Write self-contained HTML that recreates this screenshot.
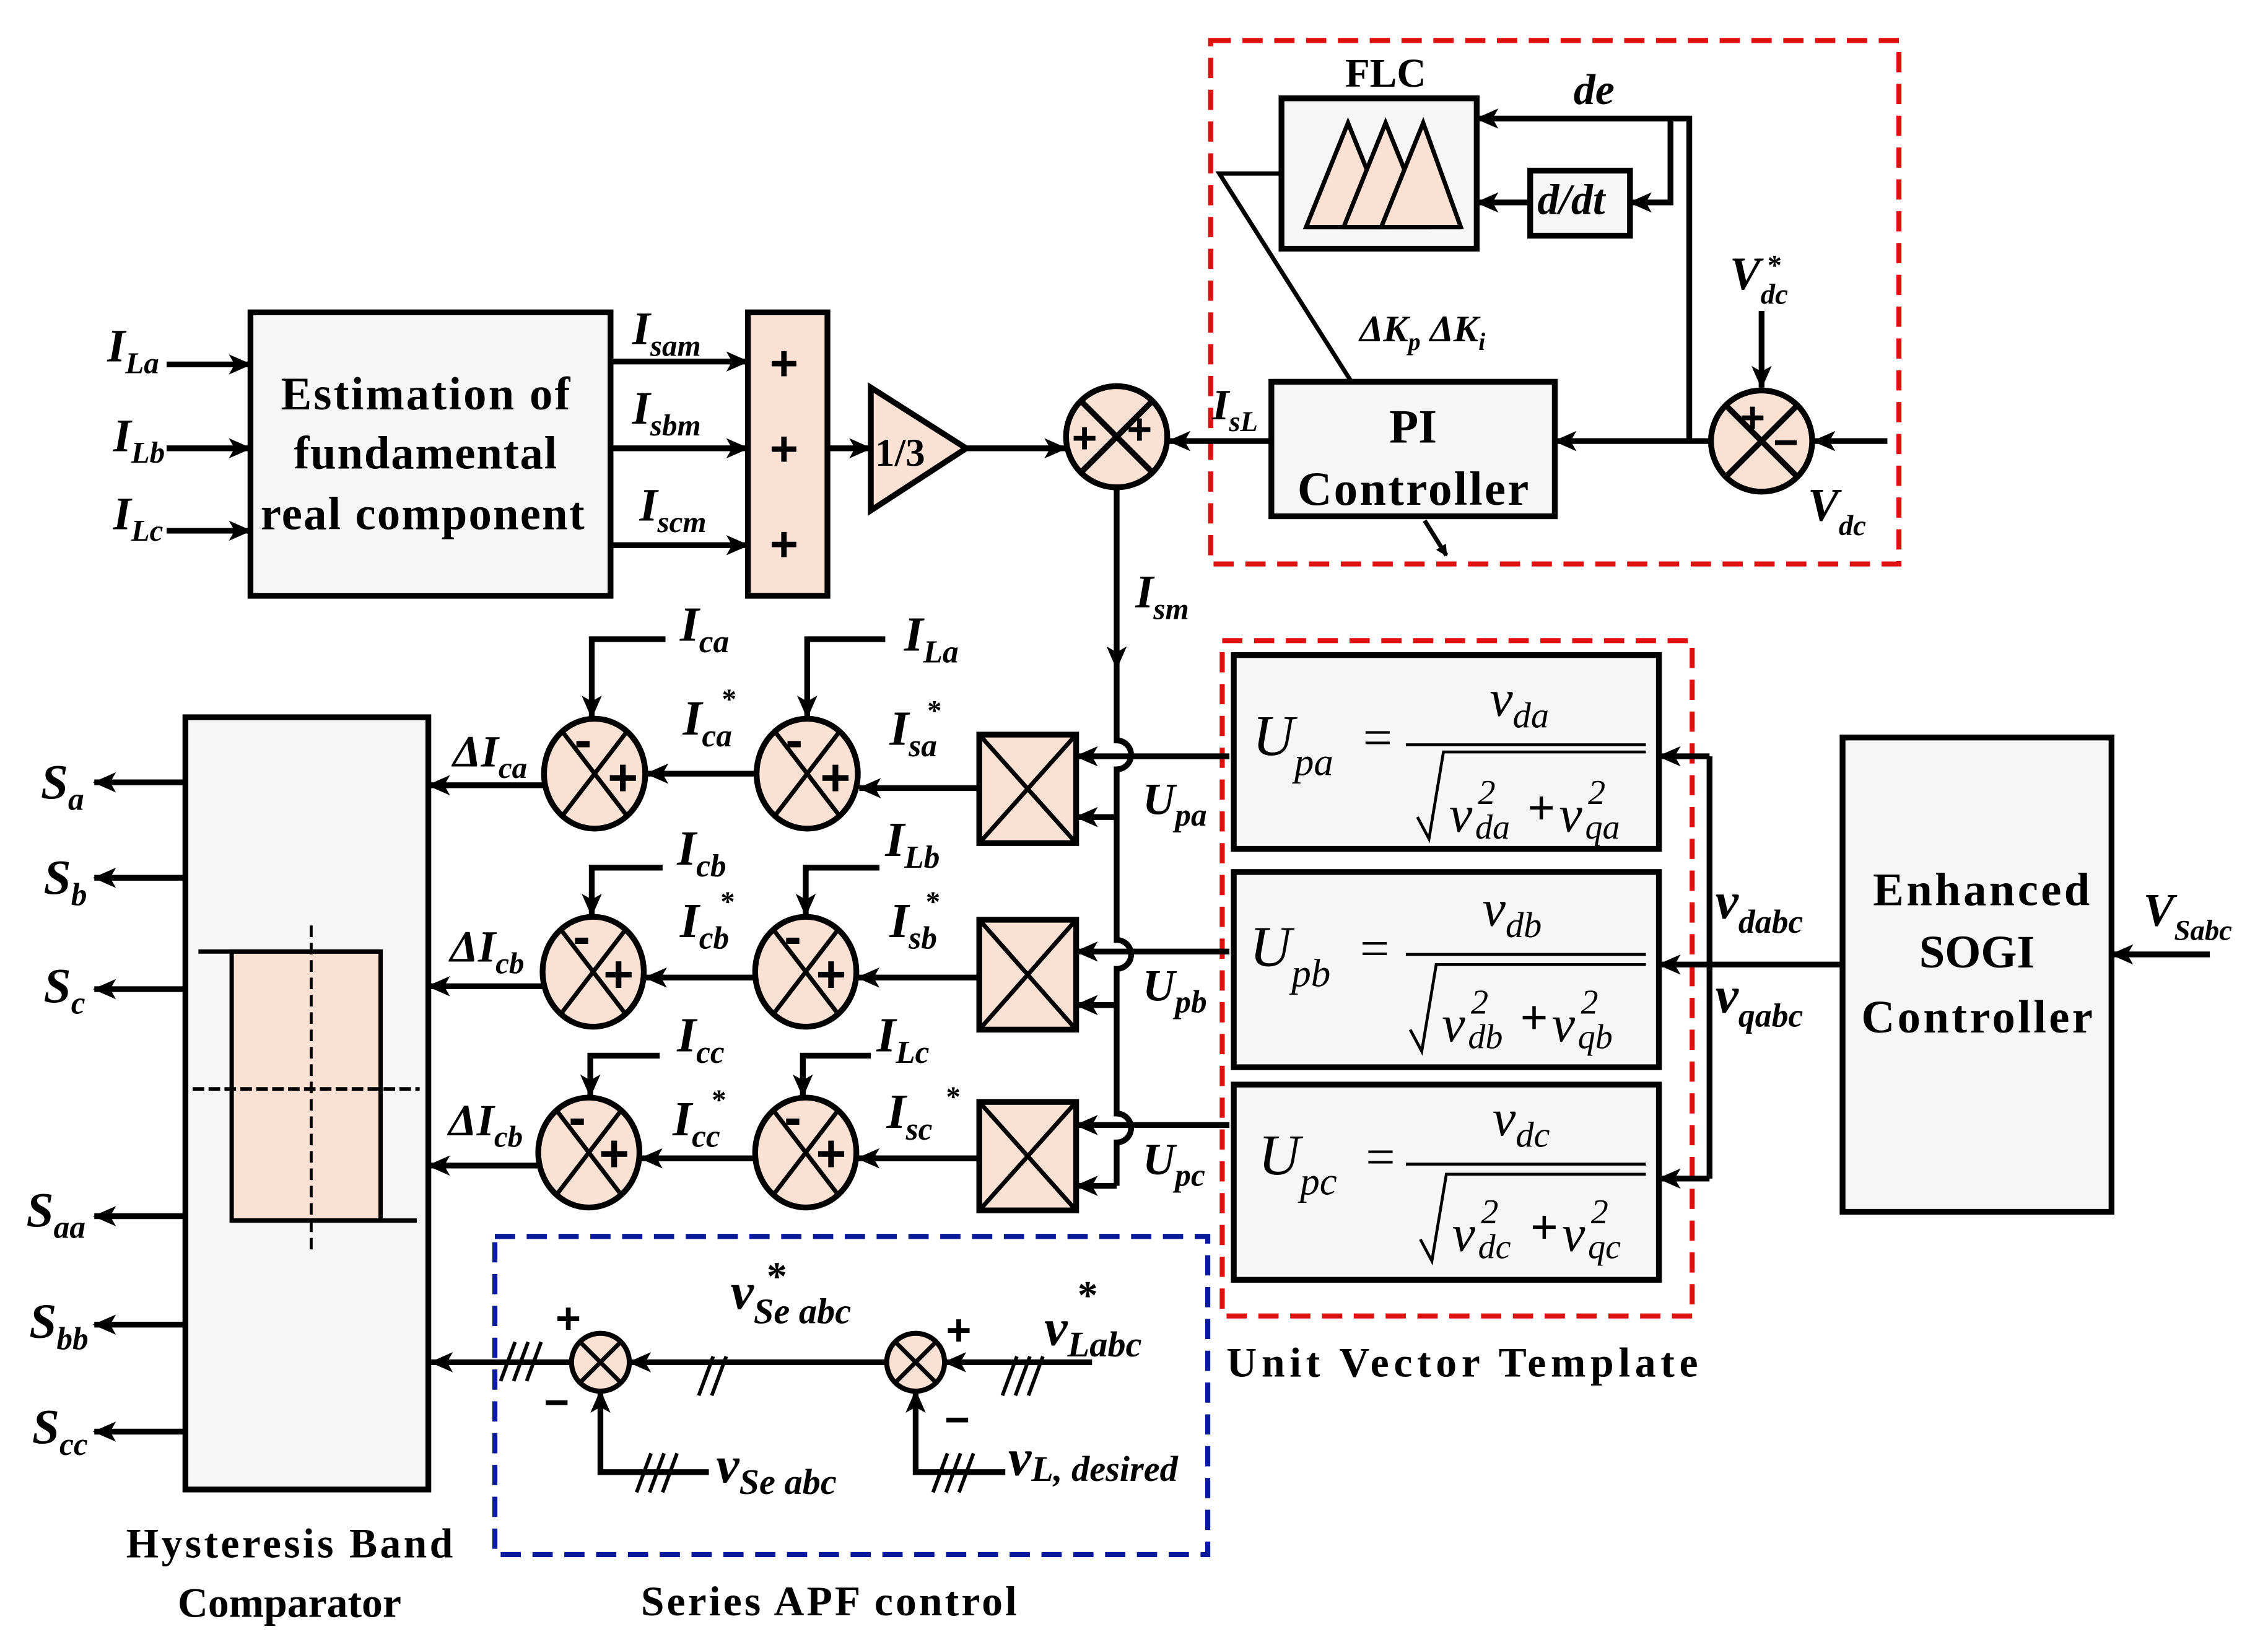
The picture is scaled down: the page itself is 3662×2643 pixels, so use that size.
<!DOCTYPE html>
<html><head><meta charset="utf-8"><style>
html,body{margin:0;padding:0;background:#fff}
svg{display:block}
text{font-family:"Liberation Serif",serif;font-weight:bold;fill:#000}
.i{font-style:italic}
.n{font-weight:normal;font-style:italic}
</style></head><body>
<svg width="3662" height="2643" viewBox="0 0 1568 1132" xmlns="http://www.w3.org/2000/svg">
<defs>
<marker id="a" markerWidth="8" markerHeight="8" refX="7" refY="4" orient="auto" markerUnits="userSpaceOnUse"><path d="M0,0 L8,4 L0,8 Z" fill="#000"/></marker>
<marker id="b" markerWidth="16" markerHeight="14" refX="15" refY="7" orient="auto" markerUnits="userSpaceOnUse"><path d="M0,0 L16,7 L0,14 L4,7 Z" fill="#000"/></marker>
</defs>
<g stroke="#000" stroke-width="4" fill="none">
<rect x="837" y="28" width="476" height="362" stroke="#e01010" stroke-width="3.5" stroke-dasharray="14,8"/>
<rect x="845" y="443" width="325" height="467" stroke="#e01010" stroke-width="3.5" stroke-dasharray="14,8"/>
<rect x="342" y="855" width="493" height="220" stroke="#0a1a9a" stroke-width="3.5" stroke-dasharray="14,8"/>
<rect x="886" y="68" width="135" height="104" fill="#f6f6f6"/>
<g stroke-width="3" fill="#fbe0d4">
<path d="M903,157 L932,85 L961,157 Z"/><path d="M929,157 L958,85 L987,157 Z"/><path d="M955,157 L984,85 L1010,157 Z"/>
</g>
<line x1="903" y1="157" x2="1010" y2="157" stroke-width="3"/>
<rect x="1058" y="118" width="69" height="45" fill="#f6f6f6"/>
<polyline points="1168,305 1168,82 1021,82" marker-end="url(#b)"/>
<polyline points="1155,82 1155,140 1127,140" marker-end="url(#b)"/>
<line x1="1058" y1="140" x2="1021" y2="140" marker-end="url(#b)"/>
<polyline points="886,120 843,120 935,265" stroke-width="3"/>
<rect x="879" y="264" width="196" height="93" fill="#f6f6f6"/>
<line x1="985" y1="360" x2="1000" y2="384" stroke-width="3" marker-end="url(#a)"/>
<circle cx="1218" cy="305" r="35" fill="#fbe0d4"/>
<line x1="1193" y1="280" x2="1243" y2="330"/><line x1="1243" y1="280" x2="1193" y2="330"/>
<line x1="1218" y1="215" x2="1218" y2="268" marker-end="url(#b)"/>
<line x1="1305" y1="305" x2="1254" y2="305" marker-end="url(#b)"/>
<line x1="1183" y1="305" x2="1075" y2="305" marker-end="url(#b)"/>
<line x1="879" y1="305" x2="808" y2="305" marker-end="url(#b)"/>
<circle cx="772" cy="302" r="35" fill="#fbe0d4"/>
<line x1="747" y1="277" x2="797" y2="327"/><line x1="797" y1="277" x2="747" y2="327"/>
<rect x="173" y="216" width="249" height="196" fill="#f6f6f6"/>
<line x1="115" y1="252" x2="173" y2="252" marker-end="url(#b)"/>
<line x1="115" y1="310" x2="173" y2="310" marker-end="url(#b)"/>
<line x1="115" y1="367" x2="173" y2="367" marker-end="url(#b)"/>
<line x1="422" y1="250" x2="517" y2="250" marker-end="url(#b)"/>
<line x1="422" y1="310" x2="517" y2="310" marker-end="url(#b)"/>
<line x1="422" y1="377" x2="517" y2="377" marker-end="url(#b)"/>
<rect x="517" y="216" width="55" height="196" fill="#fbe0d4"/>
<line x1="572" y1="310" x2="602" y2="310" marker-end="url(#b)"/>
<path d="M602,268 L668,310 L602,353 Z" fill="#fbe0d4"/>
<line x1="668" y1="310" x2="737" y2="310" marker-end="url(#b)"/>
<line x1="772" y1="337" x2="772" y2="462" marker-end="url(#b)"/>
<path d="M772,462 L772,512 A10,10 0 0 1 772,532 L772,650 A10,10 0 0 1 772,670 L772,770 A10,10 0 0 1 772,790 L772,820"/>
<rect x="677" y="508" width="67" height="75" fill="#fbe0d4"/>
<rect x="677" y="636" width="67" height="76" fill="#fbe0d4"/>
<rect x="677" y="762" width="67" height="75" fill="#fbe0d4"/>
<path d="M677,508 L744,583 M744,508 L677,583 M677,636 L744,712 M744,636 L677,712 M677,762 L744,837 M744,762 L677,837" stroke-width="3"/>
<line x1="850" y1="523" x2="744" y2="523" marker-end="url(#b)"/>
<line x1="850" y1="658" x2="744" y2="658" marker-end="url(#b)"/>
<line x1="850" y1="778" x2="744" y2="778" marker-end="url(#b)"/>
<polyline points="772,565 744,565" marker-end="url(#b)"/>
<polyline points="772,695 744,695" marker-end="url(#b)"/>
<polyline points="772,820 744,820" marker-end="url(#b)"/>
<g fill="#fbe0d4">
<ellipse cx="558" cy="535" rx="35" ry="38"/><ellipse cx="411" cy="535" rx="35" ry="38"/>
<ellipse cx="557" cy="672" rx="35" ry="38"/><ellipse cx="410" cy="672" rx="35" ry="38"/>
<ellipse cx="557" cy="797" rx="35" ry="38"/><ellipse cx="407" cy="797" rx="35" ry="38"/>
</g>
<path d="M535,505 L581,565 M581,505 L535,565 M388,505 L434,565 M434,505 L388,565 M534,642 L580,702 M580,642 L534,702 M387,642 L433,702 M433,642 L387,702 M534,767 L580,827 M580,767 L534,827 M384,767 L430,827 M430,767 L384,827" stroke-width="3"/>
<line x1="677" y1="545" x2="594" y2="545" marker-end="url(#b)"/>
<line x1="523" y1="535" x2="447" y2="535" marker-end="url(#b)"/>
<line x1="376" y1="543" x2="296" y2="543" marker-end="url(#b)"/>
<line x1="677" y1="676" x2="593" y2="676" marker-end="url(#b)"/>
<line x1="522" y1="676" x2="446" y2="676" marker-end="url(#b)"/>
<line x1="375" y1="682" x2="296" y2="682" marker-end="url(#b)"/>
<line x1="677" y1="801" x2="593" y2="801" marker-end="url(#b)"/>
<line x1="522" y1="801" x2="443" y2="801" marker-end="url(#b)"/>
<line x1="372" y1="806" x2="296" y2="806" marker-end="url(#b)"/>
<polyline points="460,442 409,442 409,496" marker-end="url(#b)"/>
<polyline points="612,442 558,442 558,496" marker-end="url(#b)"/>
<polyline points="458,600 409,600 409,633" marker-end="url(#b)"/>
<polyline points="608,600 557,600 557,633" marker-end="url(#b)"/>
<polyline points="456,730 408,730 408,758" marker-end="url(#b)"/>
<polyline points="602,730 555,730 555,758" marker-end="url(#b)"/>
<rect x="128" y="496" width="168" height="534" fill="#f6f6f6"/>
<rect x="160" y="658" width="103" height="186" fill="#fbe0d4" stroke-width="3"/>
<line x1="137" y1="658" x2="263" y2="658" stroke-width="3"/><line x1="160" y1="844" x2="288" y2="844" stroke-width="3"/>
<line x1="215" y1="640" x2="215" y2="868" stroke-width="2" stroke-dasharray="8,4"/>
<line x1="133" y1="753" x2="290" y2="753" stroke-width="2.5" stroke-dasharray="8,3"/>
<line x1="128" y1="541" x2="65" y2="541" marker-end="url(#b)"/>
<line x1="128" y1="607" x2="65" y2="607" marker-end="url(#b)"/>
<line x1="128" y1="684" x2="65" y2="684" marker-end="url(#b)"/>
<line x1="128" y1="841" x2="65" y2="841" marker-end="url(#b)"/>
<line x1="128" y1="916" x2="65" y2="916" marker-end="url(#b)"/>
<line x1="128" y1="990" x2="65" y2="990" marker-end="url(#b)"/>
<rect x="853" y="453" width="294" height="134" fill="#f6f6f6"/>
<rect x="853" y="603" width="294" height="135" fill="#f6f6f6"/>
<rect x="853" y="750" width="294" height="135" fill="#f6f6f6"/>
<g stroke-width="2">
<line x1="972" y1="515" x2="1138" y2="515"/><line x1="972" y1="660" x2="1138" y2="660"/><line x1="972" y1="805" x2="1138" y2="805"/>
<polyline points="980,565 988,580 998,520 1138,520"/>
<polyline points="975,712 983,727 993,667 1138,667"/>
<polyline points="982,857 990,872 1000,812 1138,812"/>
</g>
<polyline points="1274,667 1182,667" />
<polyline points="1182,523 1182,815"/>
<line x1="1182" y1="523" x2="1147" y2="523" marker-end="url(#b)"/>
<line x1="1182" y1="667" x2="1147" y2="667" marker-end="url(#b)"/>
<line x1="1182" y1="815" x2="1147" y2="815" marker-end="url(#b)"/>
<rect x="1274" y="510" width="186" height="328" fill="#f6f6f6"/>
<line x1="1528" y1="660" x2="1460" y2="660" marker-end="url(#b)"/>
<circle cx="415" cy="942" r="20" fill="#fbe0d4" stroke-width="3.5"/>
<circle cx="633" cy="942" r="20" fill="#fbe0d4" stroke-width="3.5"/>
<path d="M401,928 L429,956 M429,928 L401,956 M619,928 L647,956 M647,928 L619,956" stroke-width="3"/>
<line x1="755" y1="942" x2="653" y2="942" marker-end="url(#b)"/>
<line x1="613" y1="942" x2="435" y2="942" marker-end="url(#b)"/>
<line x1="395" y1="942" x2="298" y2="942" marker-end="url(#b)"/>
<polyline points="490,1018 415,1018 415,962" marker-end="url(#b)"/>
<polyline points="695,1018 633,1018 633,962" marker-end="url(#b)"/>
<g stroke-width="2.5">
<path d="M346,955 L356,928 M355,955 L365,928 M364,955 L374,928"/>
<path d="M483,965 L493,938 M492,965 L502,938"/>
<path d="M693,965 L703,938 M702,965 L712,938 M711,965 L721,938"/>
<path d="M440,1032 L450,1005 M449,1032 L459,1005 M458,1032 L468,1005"/>
<path d="M645,1032 L655,1005 M654,1032 L664,1005 M663,1032 L673,1005"/>
</g>
</g>
<!-- signs -->
<g font-size="34" font-family="Liberation Sans">
<text x="532" y="263" style="font-family:'Liberation Sans'">+</text><text x="532" y="322" style="font-family:'Liberation Sans'">+</text><text x="532" y="388" style="font-family:'Liberation Sans'">+</text>
<text x="741" y="313" style="font-family:'Liberation Sans'" font-size="30">+</text><text x="779" y="307" style="font-family:'Liberation Sans'" font-size="30">+</text>
<text x="1203" y="299" style="font-family:'Liberation Sans'" font-size="30">+</text><text x="1226" y="316" style="font-family:'Liberation Sans'" font-size="30">−</text>
<text x="384" y="922" style="font-family:'Liberation Sans'" font-size="30">+</text><text x="376" y="980" style="font-family:'Liberation Sans'" font-size="30">−</text>
<text x="654" y="930" style="font-family:'Liberation Sans'" font-size="30">+</text><text x="653" y="992" style="font-family:'Liberation Sans'" font-size="30">−</text>
</g>
<g font-size="36" style="font-family:'Liberation Sans'">
<text x="543" y="524" style="font-family:'Liberation Sans'">-</text><text x="567" y="550" style="font-family:'Liberation Sans'">+</text>
<text x="397" y="524" style="font-family:'Liberation Sans'">-</text><text x="420" y="550" style="font-family:'Liberation Sans'">+</text>
<text x="542" y="660" style="font-family:'Liberation Sans'">-</text><text x="564" y="686" style="font-family:'Liberation Sans'">+</text>
<text x="396" y="660" style="font-family:'Liberation Sans'">-</text><text x="417" y="686" style="font-family:'Liberation Sans'">+</text>
<text x="542" y="785" style="font-family:'Liberation Sans'">-</text><text x="564" y="810" style="font-family:'Liberation Sans'">+</text>
<text x="393" y="785" style="font-family:'Liberation Sans'">-</text><text x="414" y="810" style="font-family:'Liberation Sans'">+</text>
</g>
<text x="930" y="60" font-size="28">FLC</text>
<text x="1088" y="72" font-size="30" class="i">de</text>
<text x="1063" y="148" font-size="30" class="i">d/dt</text>
<text x="940" y="236" font-size="26" class="i">ΔK<tspan font-size="17" dy="6">p</tspan><tspan dy="-6">  ΔK</tspan><tspan font-size="17" dy="6">i</tspan></text>
<text x="977" y="306" font-size="33" text-anchor="middle">PI</text>
<text x="977" y="349" font-size="33" text-anchor="middle" textLength="160">Controller</text>
<text x="1196" y="200" font-size="32" class="i">V<tspan font-size="20" dy="10">dc</tspan></text>
<text x="1222" y="190" font-size="20">*</text>
<text x="1250" y="360" font-size="32" class="i">V<tspan font-size="20" dy="10">dc</tspan></text>
<text x="838" y="290" font-size="30" class="i">I<tspan font-size="20" dy="8">sL</tspan></text>
<text x="294" y="283" font-size="32" text-anchor="middle" textLength="200">Estimation  of</text>
<text x="294" y="324" font-size="32" text-anchor="middle" textLength="182">fundamental</text>
<text x="292" y="366" font-size="32" text-anchor="middle" textLength="224">real component</text>
<text x="74" y="250" font-size="32" class="i">I<tspan font-size="21" dy="8">La</tspan></text>
<text x="78" y="312" font-size="32" class="i">I<tspan font-size="21" dy="8">Lb</tspan></text>
<text x="78" y="366" font-size="32" class="i">I<tspan font-size="21" dy="8">Lc</tspan></text>
<text x="437" y="238" font-size="32" class="i">I<tspan font-size="21" dy="8">sam</tspan></text>
<text x="437" y="293" font-size="32" class="i">I<tspan font-size="21" dy="8">sbm</tspan></text>
<text x="442" y="360" font-size="32" class="i">I<tspan font-size="21" dy="8">scm</tspan></text>
<text x="605" y="322" font-size="27">1/3</text>
<text x="785" y="420" font-size="32" class="i">I<tspan font-size="21" dy="8">sm</tspan></text>
<text x="470" y="443" font-size="34" class="i">I<tspan font-size="22" dy="8">ca</tspan></text>
<text x="625" y="450" font-size="34" class="i">I<tspan font-size="22" dy="8">La</tspan></text>
<text x="472" y="508" font-size="34" class="i">I<tspan font-size="22" dy="8">ca</tspan></text><text x="499" y="490" font-size="20">*</text>
<text x="615" y="515" font-size="34" class="i">I<tspan font-size="22" dy="8">sa</tspan></text><text x="641" y="498" font-size="20">*</text>
<text x="313" y="530" font-size="31" class="i">ΔI<tspan font-size="21" dy="8">ca</tspan></text>
<text x="468" y="598" font-size="34" class="i">I<tspan font-size="22" dy="8">cb</tspan></text>
<text x="612" y="592" font-size="34" class="i">I<tspan font-size="22" dy="8">Lb</tspan></text>
<text x="470" y="648" font-size="34" class="i">I<tspan font-size="22" dy="8">cb</tspan></text><text x="498" y="630" font-size="20">*</text>
<text x="615" y="648" font-size="34" class="i">I<tspan font-size="22" dy="8">sb</tspan></text><text x="640" y="630" font-size="20">*</text>
<text x="311" y="665" font-size="31" class="i">ΔI<tspan font-size="21" dy="8">cb</tspan></text>
<text x="468" y="727" font-size="34" class="i">I<tspan font-size="22" dy="8">cc</tspan></text>
<text x="606" y="727" font-size="34" class="i">I<tspan font-size="22" dy="8">Lc</tspan></text>
<text x="465" y="785" font-size="34" class="i">I<tspan font-size="22" dy="8">cc</tspan></text><text x="492" y="767" font-size="20">*</text>
<text x="613" y="780" font-size="34" class="i">I<tspan font-size="22" dy="8">sc</tspan></text><text x="654" y="765" font-size="20">*</text>
<text x="310" y="785" font-size="31" class="i">ΔI<tspan font-size="21" dy="8">cb</tspan></text>
<text x="790" y="563" font-size="31" class="i">U<tspan font-size="22" dy="8">pa</tspan></text>
<text x="790" y="692" font-size="31" class="i">U<tspan font-size="22" dy="8">pb</tspan></text>
<text x="790" y="812" font-size="31" class="i">U<tspan font-size="22" dy="8">pc</tspan></text>
<text x="28" y="552" font-size="34" class="i">S<tspan font-size="22" dy="8">a</tspan></text>
<text x="30" y="618" font-size="34" class="i">S<tspan font-size="22" dy="8">b</tspan></text>
<text x="30" y="693" font-size="34" class="i">S<tspan font-size="22" dy="8">c</tspan></text>
<text x="18" y="848" font-size="34" class="i">S<tspan font-size="22" dy="8">aa</tspan></text>
<text x="20" y="925" font-size="34" class="i">S<tspan font-size="22" dy="8">bb</tspan></text>
<text x="22" y="998" font-size="34" class="i">S<tspan font-size="22" dy="8">cc</tspan></text>
<text x="200" y="1077" font-size="29" text-anchor="middle" textLength="226">Hysteresis Band</text>
<text x="200" y="1118" font-size="29" text-anchor="middle">Comparator</text>
<text x="573" y="1117" font-size="29" text-anchor="middle" textLength="260">Series APF control</text>
<text x="1011" y="952" font-size="29" text-anchor="middle" textLength="326">Unit Vector Template</text>
<text x="1370" y="626" font-size="32" text-anchor="middle" textLength="150">Enhanced</text>
<text x="1367" y="669" font-size="32" text-anchor="middle">SOGI</text>
<text x="1367" y="714" font-size="32" text-anchor="middle" textLength="160">Controller</text>
<text x="1482" y="640" font-size="32" class="i">V<tspan font-size="20" dy="10">Sabc</tspan></text>
<text x="1186" y="635" font-size="36" class="i">v<tspan font-size="23" dy="10">dabc</tspan></text>
<text x="1186" y="700" font-size="36" class="i">v<tspan font-size="23" dy="10">qabc</tspan></text>
<!-- formulas -->
<text x="866" y="522" font-size="40" class="n">U<tspan font-size="27" dy="14">pa</tspan></text><text x="940" y="522" font-size="36" class="n" font-style="normal">=</text>
<text x="1030" y="495" font-size="36" class="n">v<tspan font-size="25" dy="8">da</tspan></text>
<text x="1002" y="575" font-size="36" class="n">v</text><text x="1022" y="556" font-size="24" class="n">2</text><text x="1020" y="580" font-size="24" class="n">da</text>
<text x="1056" y="570" font-size="34" font-weight="normal">+</text>
<text x="1078" y="575" font-size="36" class="n">v</text><text x="1098" y="556" font-size="24" class="n">2</text><text x="1096" y="580" font-size="24" class="n">qa</text>
<text x="864" y="668" font-size="40" class="n">U<tspan font-size="27" dy="14">pb</tspan></text><text x="938" y="668" font-size="36" class="n" font-style="normal">=</text>
<text x="1025" y="640" font-size="36" class="n">v<tspan font-size="25" dy="8">db</tspan></text>
<text x="997" y="720" font-size="36" class="n">v</text><text x="1017" y="701" font-size="24" class="n">2</text><text x="1015" y="725" font-size="24" class="n">db</text>
<text x="1051" y="715" font-size="34" font-weight="normal">+</text>
<text x="1073" y="720" font-size="36" class="n">v</text><text x="1093" y="701" font-size="24" class="n">2</text><text x="1091" y="725" font-size="24" class="n">qb</text>
<text x="870" y="812" font-size="40" class="n">U<tspan font-size="27" dy="14">pc</tspan></text><text x="942" y="812" font-size="36" class="n" font-style="normal">=</text>
<text x="1032" y="785" font-size="36" class="n">v<tspan font-size="25" dy="8">dc</tspan></text>
<text x="1004" y="865" font-size="36" class="n">v</text><text x="1024" y="846" font-size="24" class="n">2</text><text x="1022" y="870" font-size="24" class="n">dc</text>
<text x="1058" y="860" font-size="34" font-weight="normal">+</text>
<text x="1080" y="865" font-size="36" class="n">v</text><text x="1100" y="846" font-size="24" class="n">2</text><text x="1098" y="870" font-size="24" class="n">qc</text>
<text x="505" y="905" font-size="36" class="i">v<tspan font-size="25" dy="10">Se abc</tspan></text><text x="530" y="892" font-size="28">*</text>
<text x="722" y="930" font-size="36" class="i">v<tspan font-size="25" dy="8">Labc</tspan></text><text x="745" y="905" font-size="28">*</text>
<text x="495" y="1025" font-size="36" class="i">v<tspan font-size="25" dy="8">Se abc</tspan></text>
<text x="697" y="1020" font-size="36" class="i">v<tspan font-size="25" dy="4">L, desired</tspan></text>
</svg>
</body></html>
